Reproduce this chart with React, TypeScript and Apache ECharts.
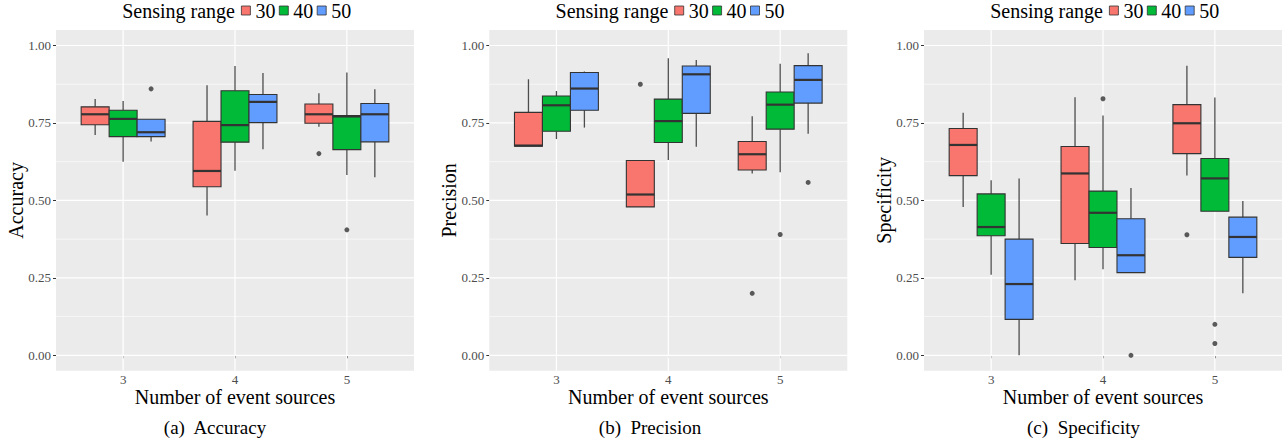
import React, { useEffect, useRef } from 'react';
import * as echarts from 'echarts';

const categories = ['3', '4', '5'];
const groups = ['30', '40', '50'];
const fills = ['#F8766D', '#00BA38', '#619CFF'];
const yTicks = [0, 0.25, 0.5, 0.75, 1];
const yMinor = [0.125, 0.375, 0.625, 0.875];
const yTitles = ['Accuracy', 'Precision', 'Specificity'];
const captions = ['(a)  Accuracy', '(b)  Precision', '(c)  Specificity'];
const xTitle = 'Number of event sources';
const legendTitle = 'Sensing range';

// [lower whisker, Q1, median, Q3, upper whisker] for 3, 4, 5 event sources
const accuracy30 = [[0.711, 0.744, 0.778, 0.802, 0.827], [0.451, 0.544, 0.595, 0.755, 0.872], [0.738, 0.749, 0.778, 0.811, 0.846]];
const accuracy40 = [[0.625, 0.706, 0.763, 0.791, 0.821], [0.596, 0.688, 0.743, 0.854, 0.934], [0.582, 0.664, 0.771, 0.774, 0.913]];
const accuracy50 = [[0.690, 0.706, 0.720, 0.762, 0.762], [0.665, 0.751, 0.818, 0.842, 0.911], [0.575, 0.689, 0.778, 0.813, 0.859]];
const precision30 = [[0.675, 0.675, 0.677, 0.784, 0.891], [0.479, 0.479, 0.519, 0.629, 0.629], [0.587, 0.598, 0.649, 0.690, 0.772]];
const precision40 = [[0.698, 0.723, 0.807, 0.837, 0.853], [0.630, 0.687, 0.756, 0.827, 0.959], [0.591, 0.730, 0.809, 0.850, 0.941]];
const precision50 = [[0.735, 0.791, 0.861, 0.913, 0.916], [0.673, 0.781, 0.907, 0.934, 0.953], [0.715, 0.814, 0.889, 0.935, 0.975]];
const specificity30 = [[0.479, 0.580, 0.679, 0.732, 0.783], [0.242, 0.361, 0.587, 0.674, 0.833], [0.580, 0.651, 0.749, 0.809, 0.935]];
const specificity40 = [[0.260, 0.386, 0.414, 0.521, 0.565], [0.278, 0.348, 0.460, 0.530, 0.774], [0.465, 0.465, 0.571, 0.635, 0.832]];
const specificity50 = [[0.000, 0.116, 0.230, 0.375, 0.571], [0.267, 0.267, 0.323, 0.441, 0.540], [0.200, 0.316, 0.382, 0.446, 0.498]];

// outliers: [category index, value]
const accuracyOut30 = [[2, 0.651]];
const accuracyOut40 = [[2, 0.405]];
const accuracyOut50 = [[0, 0.860]];
const precisionOut30 = [[1, 0.875], [2, 0.200]];
const precisionOut40 = [[2, 0.390]];
const precisionOut50 = [[2, 0.558]];
const specificityOut30 = [[2, 0.389]];
const specificityOut40 = [[1, 0.828], [2, 0.100], [2, 0.038]];
const specificityOut50 = [[1, 0.000]];

const boxes = [
  [accuracy30, accuracy40, accuracy50],
  [precision30, precision40, precision50],
  [specificity30, specificity40, specificity50],
];
const outliers = [
  [accuracyOut30, accuracyOut40, accuracyOut50],
  [precisionOut30, precisionOut40, precisionOut50],
  [specificityOut30, specificityOut40, specificityOut50],
];

const FONT = 'Liberation Serif';
const plotLeft = [56, 489.3, 924];
const plotWidth = 358;
const plotTop = 30;
const plotHeight = 340.8;
const dodge = 0.25;
const half = 0.125;
const xMin = 0.4;
const xMax = 3.6;

function buildOption() {
  const grid: any[] = [];
  const xAxis: any[] = [];
  const yAxis: any[] = [];
  const series: any[] = [];
  const legend: any[] = [];
  const graphic: any[] = [];

  for (let p = 0; p < 3; p++) {
    grid.push({
      left: plotLeft[p], top: plotTop, width: plotWidth, height: plotHeight,
      show: true, backgroundColor: '#EBEBEB', borderWidth: 0, containLabel: false,
    });
    xAxis.push({
      type: 'value', gridIndex: p, min: xMin, max: xMax,
      name: xTitle, nameLocation: 'middle', nameGap: 16.5, nameMoveOverlap: false,
      nameTextStyle: { fontSize: 20, fontFamily: FONT, color: '#000', lineHeight: 20 },
      axisLine: { show: false },
      axisTick: { show: true, length: 3, customValues: [1, 2, 3], lineStyle: { color: '#333333', width: 1 } },
      axisLabel: {
        customValues: [1, 2, 3], margin: 2.5, fontSize: 13, lineHeight: 13, fontFamily: FONT, color: '#4D4D4D',
        formatter: (v: number) => categories[Math.round(v) - 1] ?? '',
      },
      splitLine: { show: false },
    });
    yAxis.push({
      type: 'value', gridIndex: p, min: -0.05, max: 1.05,
      name: yTitles[p], nameLocation: 'middle', nameRotate: 90, nameGap: 30, nameMoveOverlap: false,
      nameTextStyle: { fontSize: 20, fontFamily: FONT, color: '#000' },
      axisLine: { show: false },
      axisTick: { show: true, length: 3, customValues: yTicks, lineStyle: { color: '#333333', width: 1 } },
      axisLabel: {
        customValues: yTicks, margin: 5, fontSize: 13, fontFamily: FONT, color: '#4D4D4D',
        formatter: (v: number) => v.toFixed(2),
      },
      splitLine: { show: false },
    });

    // horizontal grid lines
    series.push({
      type: 'custom', name: `hgrid-${p}`, xAxisIndex: p, yAxisIndex: p, silent: true, z: 1,
      data: [...yTicks.map((v) => [v, 1]), ...yMinor.map((v) => [v, 0])],
      encode: { y: 0 },
      renderItem: (_params: any, api: any) => {
        const v = api.value(0);
        const major = api.value(1) === 1;
        const a = api.coord([xMin, v]);
        const b = api.coord([xMax, v]);
        return {
          type: 'line', shape: { x1: a[0], y1: a[1], x2: b[0], y2: b[1] },
          style: { stroke: '#FFFFFF', lineWidth: major ? 1.2 : 0.6 },
        };
      },
    });
    // vertical grid lines
    series.push({
      type: 'custom', name: `vgrid-${p}`, xAxisIndex: p, yAxisIndex: p, silent: true, z: 1,
      data: categories.map((_c, i) => [i + 1]),
      encode: { x: 0 },
      renderItem: (_params: any, api: any) => {
        const x = api.value(0);
        const a = api.coord([x, -0.05]);
        const b = api.coord([x, 1.05]);
        return {
          type: 'line', shape: { x1: a[0], y1: a[1], x2: b[0], y2: b[1] },
          style: { stroke: '#FFFFFF', lineWidth: 1.2 },
        };
      },
    });

    for (let g = 0; g < 3; g++) {
      const off = (g - 1) * dodge;
      const fill = fills[g];
      series.push({
        type: 'custom', name: groups[g], xAxisIndex: p, yAxisIndex: p, z: 3,
        itemStyle: { color: fill },
        data: boxes[p][g].map((d, i) => [i + 1, ...d]),
        encode: { x: 0, y: [1, 2, 3, 4, 5] },
        renderItem: (_params: any, api: any) => {
          const xc = api.value(0) + off;
          const lo = api.value(1), q1 = api.value(2), med = api.value(3), q3 = api.value(4), hi = api.value(5);
          const tl = api.coord([xc - half, q3]);
          const br = api.coord([xc + half, q1]);
          const ml = api.coord([xc - half, med]);
          const mr = api.coord([xc + half, med]);
          const pHi = api.coord([xc, hi]);
          const pLo = api.coord([xc, lo]);
          const whisker = { stroke: '#4D4D4D', lineWidth: 1.3 };
          return {
            type: 'group',
            children: [
              { type: 'line', shape: { x1: pHi[0], y1: pHi[1], x2: pHi[0], y2: tl[1] }, style: whisker },
              { type: 'line', shape: { x1: pLo[0], y1: br[1], x2: pLo[0], y2: pLo[1] }, style: whisker },
              {
                type: 'rect',
                shape: { x: tl[0], y: tl[1], width: br[0] - tl[0], height: br[1] - tl[1] },
                style: { fill, stroke: '#333333', lineWidth: 1.1 },
              },
              { type: 'line', shape: { x1: ml[0], y1: ml[1], x2: mr[0], y2: mr[1] }, style: { stroke: '#333333', lineWidth: 2.2 } },
            ],
          };
        },
      });
      if (outliers[p][g].length) {
        series.push({
          type: 'scatter', name: `out-${p}-${g}`, xAxisIndex: p, yAxisIndex: p, z: 4,
          symbol: 'circle', symbolSize: 5, silent: true,
          itemStyle: { color: '#333333' },
          data: outliers[p][g].map(([c, v]) => [c + 1 + off, v]),
        });
      }
    }

    const keyStart = plotLeft[p] + 185;
    legend.push({
      data: groups, left: keyStart, top: 0.5, padding: 0,
      itemWidth: 9, itemHeight: 9, itemGap: 3.5, icon: 'rect', selectedMode: false,
      itemStyle: { borderColor: '#333333', borderWidth: 0.8 },
      textStyle: { fontSize: 20, fontFamily: FONT, color: '#000' },
    });
    graphic.push({
      type: 'text', x: keyStart - 6, y: 11, silent: true,
      style: { text: legendTitle, align: 'right', verticalAlign: 'middle', fontSize: 20, fontFamily: FONT, fill: '#000' },
    });
    const capCenter = [215, 650, 1083.5][p];
    graphic.push({
      type: 'text', x: capCenter, y: 427, silent: true,
      style: { text: captions[p], align: 'center', verticalAlign: 'middle', fontSize: 19, fontFamily: FONT, fill: '#000' },
    });
  }

  return {
    animation: false,
    backgroundColor: '#FFFFFF',
    textStyle: { fontFamily: FONT },
    grid, xAxis, yAxis, series, legend, graphic,
  };
}

export default function App() {
  const ref = useRef<HTMLDivElement>(null);
  useEffect(() => {
    if (!ref.current) return;
    const chart = echarts.init(ref.current, undefined, { renderer: 'svg' });
    chart.setOption(buildOption() as any);
    return () => chart.dispose();
  }, []);
  return <div ref={ref} style={{ position: 'absolute', left: 0, top: 0, width: 1286, height: 442 }} />;
}
